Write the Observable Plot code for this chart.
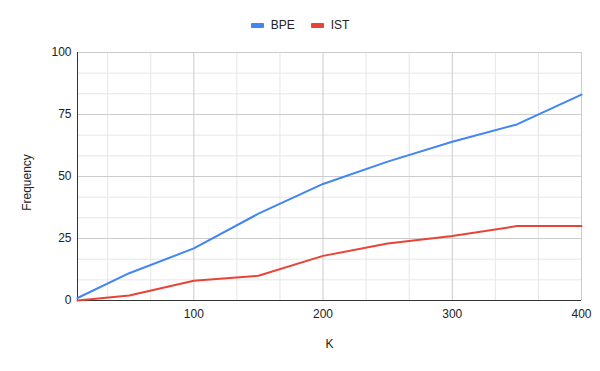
<!DOCTYPE html>
<html>
<head>
<meta charset="utf-8">
<script src="https://cdn.jsdelivr.net/npm/d3@7"></script>
<script src="https://cdn.jsdelivr.net/npm/@observablehq/plot@0.6"></script>
<style>
  html, body { margin: 0; padding: 0; background: #fff; }
  body { width: 600px; height: 371px; overflow: hidden; font-family: "Liberation Sans", Arial, sans-serif; }
  #legend { height: 40px; display: flex; justify-content: center; align-items: center; gap: 16px; font-size: 12px; color: #222; padding-top: 10px; box-sizing: border-box; }
  .item { display: flex; align-items: center; gap: 7px; }
  .sw { width: 13px; height: 5px; border-radius: 1px; }
</style>
</head>
<body>
<div id="legend"></div>
<div id="chart"></div>
<script>
const kValues = [10, 50, 100, 150, 200, 250, 300, 350, 400];
const bpeValues = [1, 11, 21, 35, 47, 56, 64, 71, 83];
const istValues = [0, 2, 8, 10, 18, 23, 26, 30, 30];
const seriesNames = ["BPE", "IST"];
const seriesColors = ["#4285F4", "#EA4335"];
const xTickLabels = [100, 200, 300, 400];
const xMinorTicks = [10, 33.33, 66.67, 133.33, 166.67, 233.33, 266.67, 333.33, 366.67];
const yTickLabels = [0, 25, 50, 75, 100];
const yMinorTicks = [8.33, 16.67, 33.33, 41.67, 58.33, 66.67, 83.33, 91.67];

const data = [];
kValues.forEach((k, i) => {
  data.push({k, v: bpeValues[i], s: seriesNames[0]});
  data.push({k, v: istValues[i], s: seriesNames[1]});
});

const legend = document.getElementById("legend");
seriesNames.forEach((n, i) => {
  const it = document.createElement("div");
  it.className = "item";
  it.innerHTML = `<span class="sw" style="background:${seriesColors[i]}"></span><span>${n}</span>`;
  legend.appendChild(it);
});

const chart = Plot.plot({
  width: 600,
  height: 331,
  marginTop: 12,
  marginBottom: 71,
  marginLeft: 77,
  marginRight: 19,
  style: {fontFamily: "'Liberation Sans', Arial, sans-serif", fontSize: "12px", color: "#222", background: "#fff"},
  x: {domain: [10, 400], label: null},
  y: {domain: [0, 100], label: null},
  color: {domain: seriesNames, range: seriesColors},
  marks: [
    Plot.ruleX(xMinorTicks, {stroke: "#e6e6e6", strokeWidth: 1}),
    Plot.ruleY(yMinorTicks, {stroke: "#e6e6e6", strokeWidth: 1}),
    Plot.ruleX(xTickLabels, {stroke: "#cccccc", strokeWidth: 1}),
    Plot.ruleY(yTickLabels, {stroke: "#cccccc", strokeWidth: 1}),
    Plot.axisX({ticks: xTickLabels, tickSize: 0, tickPadding: 9, label: null, fill: "#222"}),
    Plot.axisY({ticks: yTickLabels, tickSize: 0, tickPadding: 6, label: null, fill: "#222"}),
    Plot.ruleY([0], {stroke: "#333", strokeWidth: 1}),
    Plot.ruleX([10], {stroke: "#333", strokeWidth: 1}),
    Plot.line(data, {x: "k", y: "v", z: "s", stroke: "s", strokeWidth: 2}),
    Plot.text(["K"], {frameAnchor: "bottom", dy: 47, fill: "#222", fontSize: 12}),
    Plot.text(["Frequency"], {frameAnchor: "left", textAnchor: "middle", dx: -50, dy: 6, rotate: -90, fill: "#222", fontSize: 12})
  ]
});
document.getElementById("chart").appendChild(chart);
</script>
</body>
</html>
